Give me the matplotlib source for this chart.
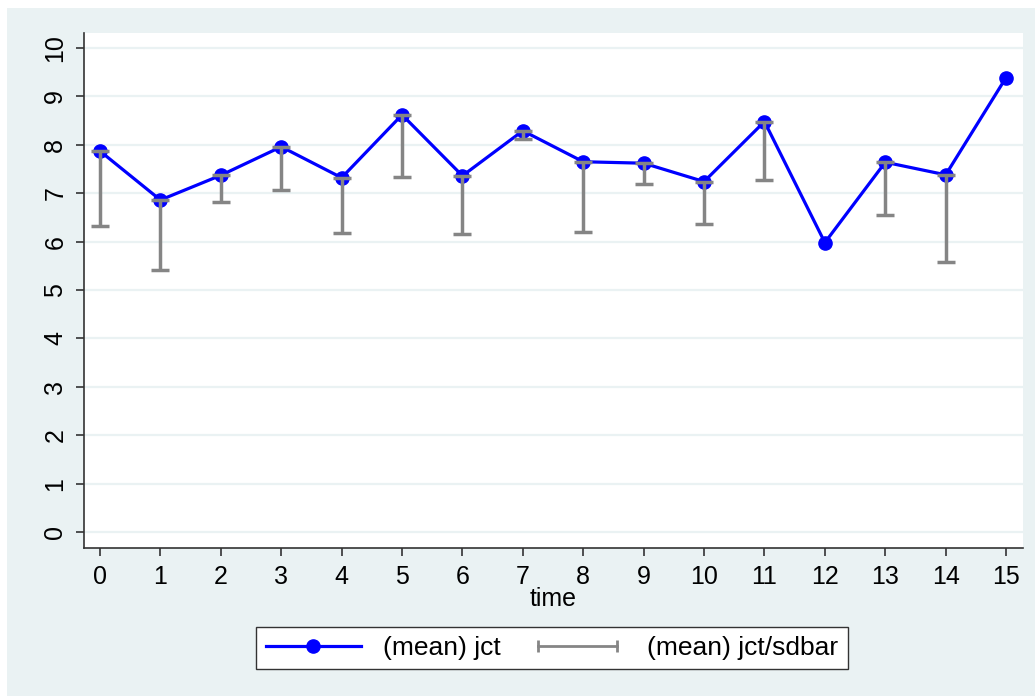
import numpy as np
import matplotlib
matplotlib.use("Agg")
import matplotlib.pyplot as plt
from matplotlib.lines import Line2D
from matplotlib.patches import Rectangle
from matplotlib.legend_handler import HandlerLine2D

plt.rcParams['font.family'] = ['Liberation Sans', 'DejaVu Sans']

# datos
time = [0, 1, 2, 3, 4, 5, 6, 7, 8, 9, 10, 11, 12, 13, 14, 15]
mean_jct = [7.87, 6.86, 7.37, 7.96, 7.32, 8.62, 7.36, 8.29, 7.65, 7.62,
            7.24, 8.48, 5.98, 7.64, 7.38, 9.39]
# extremo inferior de la barra (mean - sd); None = sin barra
lower_jct = [6.33, 5.41, 6.81, 7.07, 6.17, 7.34, 6.15, 8.13, 6.20, 7.18,
             6.36, 7.27, None, 6.56, 5.58, None]
yticks = [0, 1, 2, 3, 4, 5, 6, 7, 8, 9, 10]

W, H = 1035, 696
bg = "#EAF2F3"
blue = "#0000FF"
gris = "#858585"
fs = 18

fig = plt.figure(figsize=(W / 100, H / 100), dpi=100, facecolor="white")
fig.patches.append(Rectangle((7 / W, 0), 1 - 7 / W, 1 - 8 / H,
                             transform=fig.transFigure, facecolor=bg,
                             edgecolor="none", zorder=-5))

ax = fig.add_axes([84 / W, (H - 548) / H, (1023 - 84) / W, (548 - 33) / H])
ax.set_zorder(2)
ax.set_facecolor("white")

t = np.array(time)
m = np.array(mean_jct)
lo = np.array([np.nan if v is None else v for v in lower_jct])
ok = ~np.isnan(lo)

ax.plot(t, m, color=blue, lw=2.3, marker="o", ms=9.5, zorder=3)
ax.errorbar(t[ok], m[ok], yerr=[m[ok] - lo[ok], np.zeros(ok.sum())],
            fmt="none", ecolor=gris, elinewidth=2.5, capsize=6.5,
            capthick=2.5, zorder=4)

ax.set_xlim(-0.265, 15.28)
ax.set_ylim(-0.33, 10.31)
ax.set_xticks(time)
ax.set_yticks(yticks)
ax.tick_params(axis="y", labelrotation=90, labelsize=fs, length=6,
               width=1.2, color="#333333", pad=6)
ax.tick_params(axis="x", labelsize=fs, length=6, width=1.2,
               color="#333333", pad=6)
for lab in ax.get_yticklabels():
    lab.set_va("center")
ax.grid(axis="y", color=bg, lw=1.6)
ax.set_axisbelow(True)
for s in ["top", "right"]:
    ax.spines[s].set_visible(False)
for s in ["left", "bottom"]:
    ax.spines[s].set_color("#333333")
    ax.spines[s].set_linewidth(1.2)
ax.set_xlabel("time", fontsize=fs, labelpad=-1)

h1 = Line2D([], [], color=blue, lw=2.3, marker="o", ms=9.5)
h2 = Line2D([], [], color=gris, lw=2.0, marker="|", ms=9, mew=2.0)
leg = fig.legend([h1, h2], ["(mean) jct", "(mean) jct/sdbar"],
                 loc="center", bbox_to_anchor=(552 / W, 1 - 648 / H),
                 ncol=2, fontsize=19, frameon=True, fancybox=False,
                 framealpha=1, edgecolor="#333333", handlelength=3.6,
                 columnspacing=1.1, handletextpad=0.85, borderpad=0.35,
                 handler_map={h1: HandlerLine2D(numpoints=1),
                              h2: HandlerLine2D(numpoints=2)})
leg.get_frame().set_linewidth(1.0)
leg.get_frame().set_facecolor("white")

fig.savefig("out.png", dpi=100, facecolor=fig.get_facecolor())
